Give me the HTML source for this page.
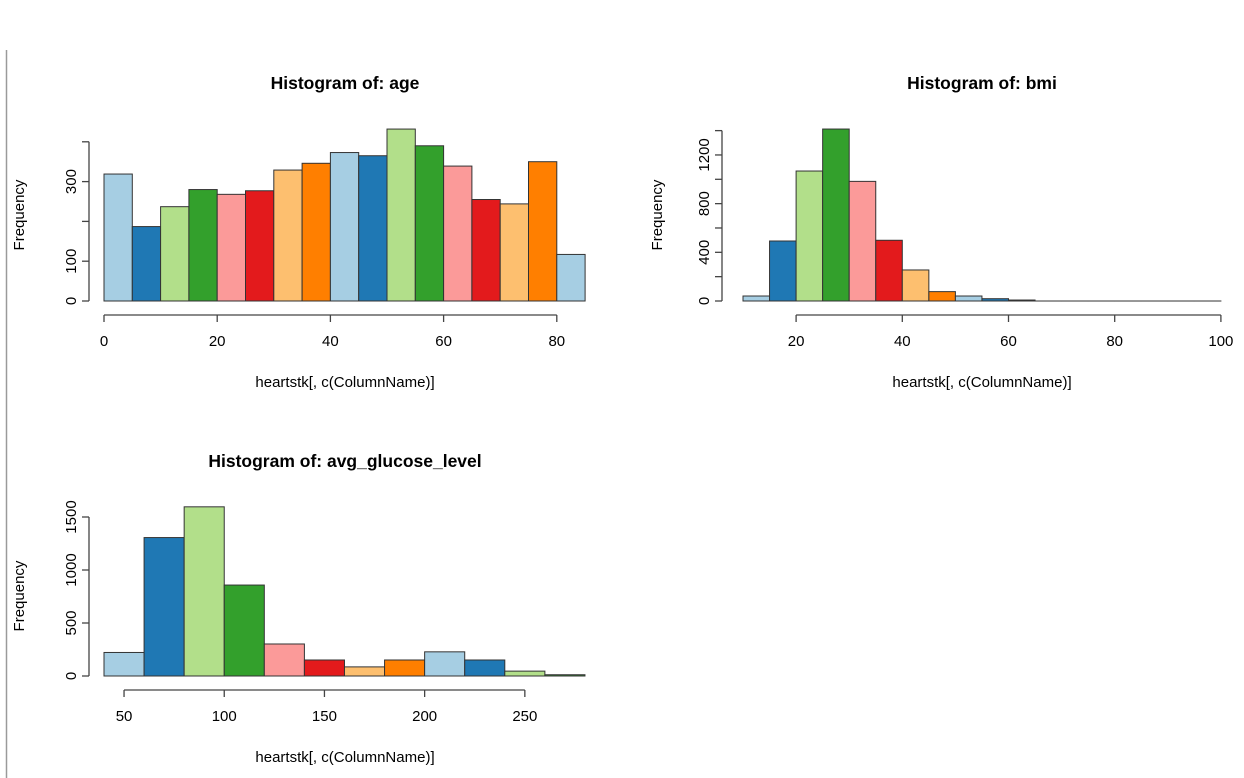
<!DOCTYPE html>
<html><head><meta charset="utf-8"><style>
html,body{margin:0;padding:0;background:#fff;width:1244px;height:778px;overflow:hidden}
svg{display:block;font-family:"Liberation Sans",Arial,sans-serif}
</style></head><body>
<svg id="c" width="1244" height="778" xmlns="http://www.w3.org/2000/svg">
<line x1="6.5" y1="50" x2="6.5" y2="778" stroke="#9a9a9a" stroke-width="1.5"/>
</svg>
<script>
const palette = ["#A6CEE3","#1F78B4","#B2DF8A","#33A02C","#FB9A99","#E31A1C","#FDBF6F","#FF7F00"];

const ageBreaks = [0,5,10,15,20,25,30,35,40,45,50,55,60,65,70,75,80,85];
const ageCounts = [319,187,237,280,268,277,329,346,373,365,432,390,339,255,244,350,117];
const ageXTicks = [0,20,40,60,80];
const ageYTicks = [0,100,200,300,400];
const ageYLabels = ["0","100","","300",""];

const bmiBreaks = [10,15,20,25,30,35,40,45,50,55,60,65,70,75,80,85,90,95,100];
const bmiCounts = [41,493,1068,1413,983,499,255,77,41,19,8,0,0,0,0,0,0,0];
const bmiXTicks = [20,40,60,80,100];
const bmiYTicks = [0,200,400,600,800,1000,1200,1400];
const bmiYLabels = ["0","","400","","800","","1200",""];

const gluBreaks = [40,60,80,100,120,140,160,180,200,220,240,260,280];
const gluCounts = [222,1306,1596,858,302,151,86,151,228,151,46,12];
const gluXTicks = [50,100,150,200,250];
const gluYTicks = [0,500,1000,1500];
const gluYLabels = ["0","500","1000","1500"];

const svg = document.getElementById('c');
const NS = "http://www.w3.org/2000/svg";
function mk(tag, attrs, parent){
  const e = document.createElementNS(NS, tag);
  for (const k in attrs) e.setAttribute(k, attrs[k]);
  (parent||svg).appendChild(e);
  return e;
}
function txt(parent, x, y, s, size, extra){
  const t = mk('text', Object.assign({x:x, y:y, 'font-size':size, fill:'#000', 'text-anchor':'middle'}, extra||{}), parent);
  t.textContent = s;
  return t;
}

function histogram(cfg){
  const g = mk('g', {});
  
  
  const b = cfg.breaks;
  const xs = v => cfg.px0 + (v - b[0]) * cfg.pxPer;
  const ys = v => cfg.base - v * cfg.pyPer;
  // bars
  cfg.counts.forEach((c, i) => {
    const x1 = xs(b[i]), x2 = xs(b[i+1]);
    const r = mk('rect', {x:x1, y:ys(c), width:x2-x1, height:Math.max(c*cfg.pyPer,0.01), fill:palette[i%8], stroke:'#333', 'stroke-width':1}, g);
    
    
  });
  // y axis
  const ya = mk('g', {}, g);
  
  
  const yt = cfg.yTicks;
  mk('line', {x1:cfg.yAxisX, x2:cfg.yAxisX, y1:ys(yt[0]), y2:ys(yt[yt.length-1]), stroke:'#444', 'stroke-width':1.3}, ya);
  yt.forEach((v, i) => {
    mk('line', {x1:cfg.yAxisX-7, x2:cfg.yAxisX, y1:ys(v), y2:ys(v), stroke:'#444', 'stroke-width':1.3}, ya);
    if (cfg.yLabels[i]) {
      const xx = cfg.yAxisX - 18, yy = ys(v);
      const t = txt(ya, xx, yy, cfg.yLabels[i], 15, {transform:'rotate(-90 '+xx+' '+yy+')', 'dominant-baseline':'auto'});
      t.setAttribute('dy', '5');
    }
  });
  // x axis
  const xa = mk('g', {}, g);
  
  
  const xt = cfg.xTicks;
  mk('line', {x1:xs(xt[0]), x2:xs(xt[xt.length-1]), y1:cfg.base+14, y2:cfg.base+14, stroke:'#444', 'stroke-width':1.3}, xa);
  xt.forEach(v => {
    mk('line', {x1:xs(v), x2:xs(v), y1:cfg.base+14, y2:cfg.base+21, stroke:'#444', 'stroke-width':1.3}, xa);
    txt(xa, xs(v), cfg.base+45, String(v), 15);
  });
  const tt = txt(g, cfg.cx, cfg.titleY, cfg.title, 17.5, {'font-weight':'bold'});
  
  
  const xl = txt(g, cfg.cx, cfg.base+86, 'heartstk[, c(ColumnName)]', 15);
  
  
  const fy = cfg.fy;
  const yl = txt(g, cfg.fx, fy, 'Frequency', 15, {transform:'rotate(-90 '+cfg.fx+' '+fy+')'});
  
  
}

histogram({name:'age-histogram', breaks:ageBreaks, counts:ageCounts, xTicks:ageXTicks, yTicks:ageYTicks, yLabels:ageYLabels,
  px0:104, pxPer:5.66, base:301, pyPer:0.398, yAxisX:89, cx:345, titleY:89, title:'Histogram of: age', fx:24, fy:215});
histogram({name:'bmi-histogram', breaks:bmiBreaks, counts:bmiCounts, xTicks:bmiXTicks, yTicks:bmiYTicks, yLabels:bmiYLabels,
  px0:743, pxPer:5.31, base:301, pyPer:0.1217, yAxisX:722, cx:982, titleY:89, title:'Histogram of: bmi', fx:662, fy:215});
histogram({name:'glucose-histogram', breaks:gluBreaks, counts:gluCounts, xTicks:gluXTicks, yTicks:gluYTicks, yLabels:gluYLabels,
  px0:104, pxPer:2.004, base:676, pyPer:0.106, yAxisX:89, cx:345, titleY:467, title:'Histogram of: avg_glucose_level', fx:24, fy:596});
</script>
</body></html>
